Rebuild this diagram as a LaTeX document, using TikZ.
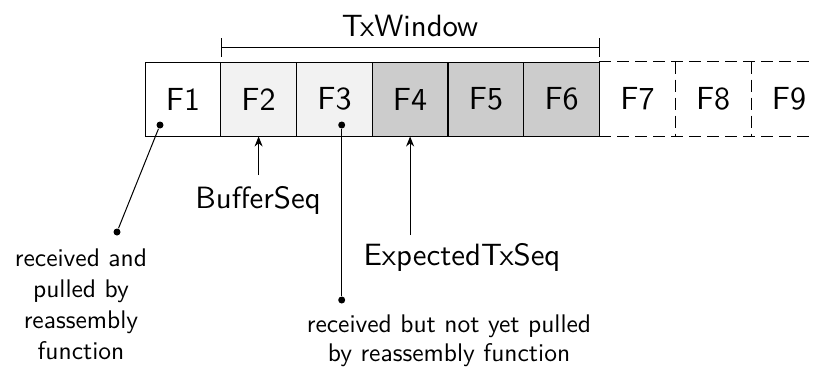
\documentclass[tikz,border=0pt]{standalone}
\usepackage{fontspec}
\setsansfont[Extension=.otf]{lmsans10-regular}
\usetikzlibrary{arrows.meta}
\begin{document}
\begin{tikzpicture}[x=1pt,y=-1pt,line width=1pt,
  cell/.style={draw,minimum width=75.75pt,minimum height=74pt,inner sep=0pt,
    font=\sffamily\fontsize{32}{36}\selectfont},
  dcell/.style={minimum width=75.75pt,minimum height=74pt,inner sep=0pt,
    font=\sffamily\fontsize{32}{36}\selectfont},
  dline/.style={dash pattern=on 12pt off 6pt},
  big/.style={font=\sffamily\fontsize{30.8}{36}\selectfont,inner sep=0pt},
  small/.style={font=\sffamily\fontsize{25.5}{31}\selectfont,align=center,inner sep=0pt},
  dot/.style={circle,fill,inner sep=0pt,minimum size=7pt},
  arr/.style={-{Stealth[length=10pt,width=8pt]}}]
\useasboundingbox (0,0) rectangle (815,370);
\clip (0,0) rectangle (815,370);
\node[cell] (f1) at (182.9,99) {F1};
\node[cell,fill=black!5] (f2) at (258.6,99) {F2};
\node[cell,fill=black!5] (f3) at (334.4,99) {F3};
\node[cell,fill=black!20] (f4) at (410.1,99) {F4};
\node[cell,fill=black!20] (f5) at (485.9,99) {F5};
\node[cell,fill=black!20] (f6) at (561.6,99) {F6};
\node[dcell] (f7) at (637.4,99) {F7};
\node[dcell] (f8) at (713.1,99) {F8};
\node[dcell] (f9) at (788.9,99) {F9};
\draw[dline] (f7.north west) -- (f9.north east);
\draw[dline] (f7.south west) -- (f9.south east);
\draw[dline] (f7.north east) -- (f7.south east);
\draw[dline] (f8.north east) -- (f8.south east);
% TxWindow bracket
\coordinate (bl) at (221,47);
\coordinate (br) at (599,47);
\draw (bl) -- (br);
\draw (221,38) -- (221,57);
\draw (599,38) -- (599,57);
\node[big] (tx) at (410,26) {TxWindow};
% BufferSeq
\node[big] (bs) at (258,200) {BufferSeq};
\coordinate (bsa) at (258.6,175);
\draw[arr] (bsa) -- (f2.south);
% ExpectedTxSeq
\node[big] (ets) at (462,257) {ExpectedTxSeq};
\coordinate (etsa) at (410.1,235);
\draw[arr] (etsa) -- (f4.south);
% dots and lines
\node[dot] (d1) at (160,125) {};
\node[dot] (d1b) at (117,232) {};
\draw (d1) -- (d1b);
\node[dot] (d3) at (341.7,125) {};
\node[dot] (d3b) at (341.7,300) {};
\draw (d3) -- (d3b);
\node[small] (t1) at (81,304) {received and\\pulled by\\reassembly\\function};
\node[small,font=\sffamily\fontsize{25.5}{29}\selectfont] (t3) at (449,341) {received but not yet pulled\\by reassembly function};
\end{tikzpicture}
\end{document}
